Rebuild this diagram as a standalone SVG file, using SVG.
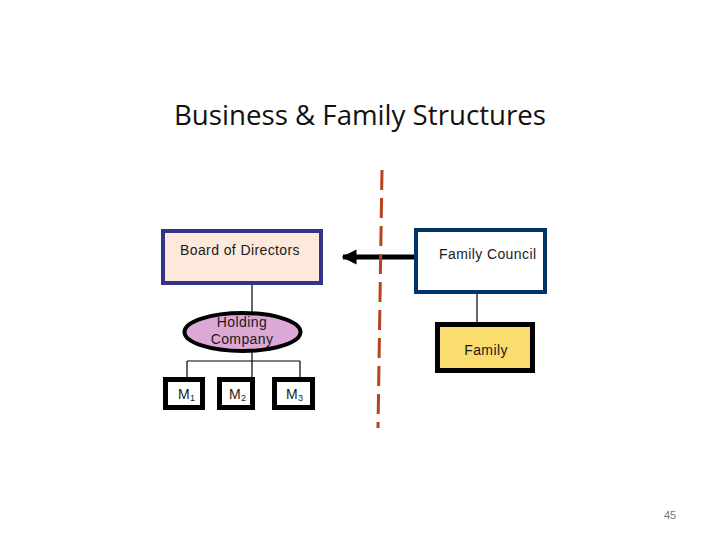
<svg xmlns="http://www.w3.org/2000/svg" width="720" height="540" viewBox="0 0 720 540">
<defs>
<style>
.lbl{font-family:"Liberation Sans",Arial,sans-serif;font-size:14px;fill:#1a1a1a;letter-spacing:0.4px}
.thin{stroke:#000;stroke-width:1.2;fill:none}
.m{fill:#fff;stroke:#000;stroke-width:5}
</style>
<marker id="ah" viewBox="0 0 10 10" refX="9" refY="5" markerWidth="3" markerHeight="4" orient="auto" markerUnits="strokeWidth">
<path d="M0,0 L10,5 L0,10 Z" fill="#000"/>
</marker>
</defs>
<rect width="720" height="540" fill="#fff"/>
<text x="360" y="125" text-anchor="middle" font-family="'Open Sans',sans-serif" font-size="27" fill="#111" textLength="372" lengthAdjust="spacingAndGlyphs">Business &amp; Family Structures</text>
<g id="connectors">
<line class="thin" x1="252" y1="285" x2="252" y2="312"/>
<line class="thin" x1="187" y1="361" x2="300" y2="361"/>
<line class="thin" x1="252" y1="352" x2="252" y2="377"/>
<line class="thin" x1="187" y1="361" x2="187" y2="377"/>
<line class="thin" x1="300" y1="361" x2="300" y2="377"/>
<line class="thin" x1="477" y1="294" x2="477" y2="322"/>
<line x1="414" y1="257" x2="343" y2="257" stroke="#000" stroke-width="5" marker-end="url(#ah)"/>
<line x1="382" y1="170" x2="378" y2="428" stroke="#b5441f" stroke-width="3" stroke-dasharray="20 8"/>
</g>
<g id="board">
<rect x="163" y="231" width="158" height="52" fill="#fde9db" stroke="#333388" stroke-width="4"/>
<text class="lbl" x="180" y="255">Board of Directors</text>
</g>
<g id="holding">
<ellipse cx="242.5" cy="332" rx="58" ry="19" fill="#dca9d6" stroke="#000" stroke-width="4"/>
<text class="lbl" x="242" y="327" text-anchor="middle">Holding</text>
<text class="lbl" x="242" y="344" text-anchor="middle">Company</text>
</g>
<g id="m1">
<rect class="m" x="165.5" y="379.5" width="37" height="28"/>
<text class="lbl" x="178" y="399">M<tspan font-size="9" dy="2">1</tspan></text>
</g>
<g id="m2">
<rect class="m" x="219.5" y="379.5" width="33" height="28"/>
<text class="lbl" x="229" y="399">M<tspan font-size="9" dy="2">2</tspan></text>
</g>
<g id="m3">
<rect class="m" x="274.5" y="379.5" width="38" height="28"/>
<text class="lbl" x="286" y="399">M<tspan font-size="9" dy="2">3</tspan></text>
</g>
<g id="council">
<rect x="416" y="230" width="129" height="62" fill="#fff" stroke="#003366" stroke-width="4"/>
<text class="lbl" x="439" y="259">Family Council</text>
</g>
<g id="family">
<rect x="437.5" y="324.5" width="95" height="46" fill="#fbdc6e" stroke="#000" stroke-width="5"/>
<text class="lbl" x="486" y="355" text-anchor="middle">Family</text>
</g>
<text x="670" y="519" text-anchor="middle" font-family="'Liberation Sans',Arial,sans-serif" font-size="11" fill="#777">45</text>
</svg>
